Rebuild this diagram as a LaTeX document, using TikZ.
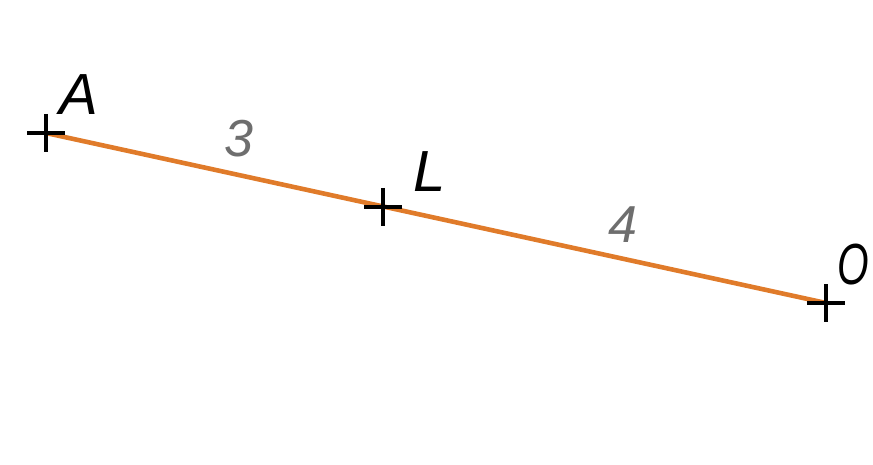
\documentclass[tikz,border=0pt]{standalone}
\usepackage{fontspec}
\setmainfont{Liberation Sans}
\usetikzlibrary{calc}

\definecolor{segorange}{HTML}{E07B2A}
\definecolor{lengthgray}{HTML}{6E6E6E}

\tikzset{
  ptlabel/.style={font=\fontsize{58}{58}\selectfont\itshape, text=black, inner sep=0pt},
  lenlabel/.style={font=\fontsize{52}{52}\selectfont\itshape, text=lengthgray, inner sep=0pt},
  crossmark/.style={line width=3.6pt, black}
}

\begin{document}
\begin{tikzpicture}[x=1pt, y=-1pt]
\useasboundingbox (0,0) rectangle (873,465);

\coordinate (A) at (46,133);
\coordinate (L) at (383,207);
\coordinate (O) at (826,303);

\draw[segorange, line width=4.6pt] (A) -- (O);

\foreach \p in {A,L,O}{
  \draw[crossmark] ($(\p)+(-19,0)$) -- ($(\p)+(19,0)$);
  \draw[crossmark] ($(\p)+(0,-19)$) -- ($(\p)+(0,19)$);
}

\node[ptlabel] (labA) at (79,95) {A};
\node[ptlabel] (labL) at (430,172) {L};
\node[ptlabel, xscale=0.7] (labO) at (853,265) {O};

\node[lenlabel] (len3) at (239,139) {3};
\node[lenlabel] (len4) at (623,225) {4};

\end{tikzpicture}
\end{document}
